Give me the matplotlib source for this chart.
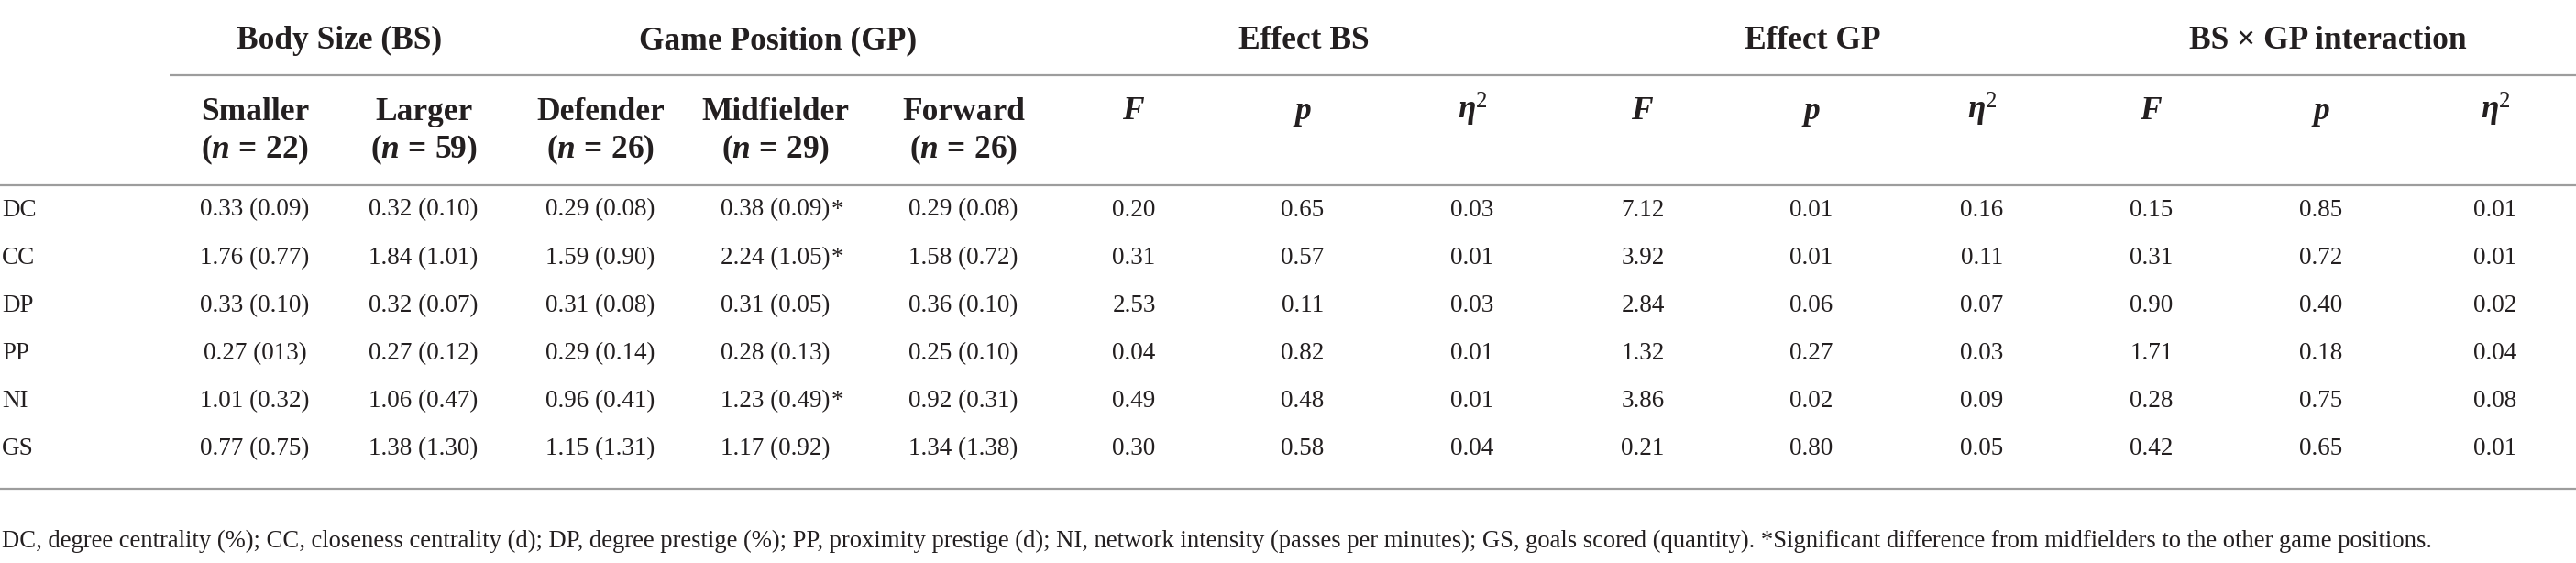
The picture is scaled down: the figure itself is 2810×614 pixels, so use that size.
import matplotlib
matplotlib.use("Agg")
import matplotlib.pyplot as plt

plt.rcParams['font.family'] = ['Liberation Serif', 'DejaVu Serif']
plt.rcParams['mathtext.fontset'] = 'custom'
plt.rcParams['mathtext.rm'] = 'Liberation Serif'
plt.rcParams['mathtext.it'] = 'Liberation Serif:italic'
plt.rcParams['mathtext.bf'] = 'Liberation Serif:bold'
plt.rcParams['mathtext.bfit'] = 'Liberation Serif:italic:bold'

# table content
rows = ["DC", "CC", "DP", "PP", "NI", "GS"]
smaller = ["0.33 (0.09)", "1.76 (0.77)", "0.33 (0.10)", "0.27 (013)", "1.01 (0.32)", "0.77 (0.75)"]
larger = ["0.32 (0.10)", "1.84 (1.01)", "0.32 (0.07)", "0.27 (0.12)", "1.06 (0.47)", "1.38 (1.30)"]
defender = ["0.29 (0.08)", "1.59 (0.90)", "0.31 (0.08)", "0.29 (0.14)", "0.96 (0.41)", "1.15 (1.31)"]
midfielder = ["0.38 (0.09)", "2.24 (1.05)", "0.31 (0.05)", "0.28 (0.13)", "1.23 (0.49)", "1.17 (0.92)"]
mid_signif = [True, True, False, False, True, False]
forward = ["0.29 (0.08)", "1.58 (0.72)", "0.36 (0.10)", "0.25 (0.10)", "0.92 (0.31)", "1.34 (1.38)"]
f_bs = ["0.20", "0.31", "2.53", "0.04", "0.49", "0.30"]
p_bs = ["0.65", "0.57", "0.11", "0.82", "0.48", "0.58"]
eta_bs = ["0.03", "0.01", "0.03", "0.01", "0.01", "0.04"]
f_gp = ["7.12", "3.92", "2.84", "1.32", "3.86", "0.21"]
p_gp = ["0.01", "0.01", "0.06", "0.27", "0.02", "0.80"]
eta_gp = ["0.16", "0.11", "0.07", "0.03", "0.09", "0.05"]
f_int = ["0.15", "0.31", "0.90", "1.71", "0.28", "0.42"]
p_int = ["0.85", "0.72", "0.40", "0.18", "0.75", "0.65"]
eta_int = ["0.01", "0.01", "0.02", "0.04", "0.08", "0.01"]

groups = ["Body Size (BS)", "Game Position (GP)", "Effect BS", "Effect GP", "BS \u00d7 GP interaction"]
sub_names = ["Smaller", "Larger", "Defender", "Midfielder", "Forward"]
sub_n = [22, 59, 26, 29, 26]
footnote = ("DC, degree centrality (%); CC, closeness centrality (d); DP, degree prestige (%); "
            "PP, proximity prestige (d); NI, network intensity (passes per minutes); "
            "GS, goals scored (quantity). *Significant difference from midfielders to the other game positions.")

W, H = 2810, 614
fig = plt.figure(figsize=(W / 100, H / 100), dpi=100)
ax = fig.add_axes([0, 0, 1, 1])
ax.set_xlim(0, W)
ax.set_ylim(H, 0)
ax.axis('off')

ink = '#231f20'
rule = '#9d9d9d'
body_fs = 19.5
head_fs = 25.5

# column centres (px)
col_x = [278, 462, 655, 846, 1051, 1237, 1421, 1606, 1792, 1976, 2162, 2347, 2532, 2722]
group_x = [370, 849, 1422, 1977, 2539]

# header
for gx, g in zip(group_x, groups):
    ax.text(gx, 53, g, ha='center', va='baseline', fontsize=head_fs, fontweight='bold', color=ink)

for cx, name, n in zip(col_x[:5], sub_names, sub_n):
    ax.text(cx, 131, name, ha='center', va='baseline', fontsize=head_fs, fontweight='bold', color=ink)
    ax.text(cx, 172, r"$\mathbf{(}\mathbfit{n}\mathbf{\,=\,%d)}$" % n, ha='center', va='baseline',
            fontsize=head_fs, color=ink)

stat_labels = [r"$\mathbfit{F}$", r"$\mathbfit{p}$", r"$\mathbfit{\eta}^{\mathrm{2}}$"] * 3
for cx, lab in zip(col_x[5:], stat_labels):
    ax.text(cx, 130, lab, ha='center', va='baseline', fontsize=head_fs, color=ink)

# rules
ax.hlines(82, 185, W, color=rule, lw=1.6)
ax.hlines(202, 0, W, color=rule, lw=1.6)
ax.hlines(533, 0, W, color=rule, lw=1.6)

# body
columns = [smaller, larger, defender, midfielder, forward,
           f_bs, p_bs, eta_bs, f_gp, p_gp, eta_gp, f_int, p_int, eta_int]
row_y = [235.5, 288, 340.5, 392.5, 444.5, 496.5]
for i, (ry, lab) in enumerate(zip(row_y, rows)):
    ax.text(2, ry, lab, ha='left', va='baseline', fontsize=body_fs, color=ink)
    for j, (cx, col) in enumerate(zip(col_x, columns)):
        t = ax.text(cx, ry, col[i], ha='center', va='baseline', fontsize=body_fs, color=ink)
        if j == 3 and mid_signif[i]:
            ax.annotate('*', xy=(1, 0), xycoords=t, xytext=(0.5, 0), textcoords='offset points',
                        ha='left', va='bottom', fontsize=body_fs, color=ink)

ax.text(2, 597, footnote, ha='left', va='baseline', fontsize=19.2, color=ink)

fig.savefig("out.png", dpi=100)
